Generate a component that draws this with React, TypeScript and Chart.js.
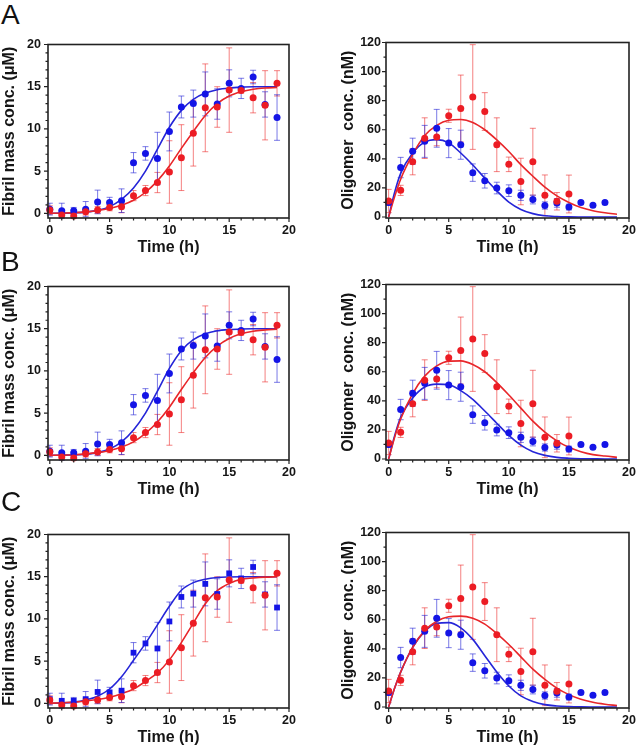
import React, { useEffect, useRef } from "react";
import { Chart, registerables } from "chart.js";
Chart.register(...registerables);

// ---------- data ----------
const hours = [0, 1, 2, 3, 4, 5, 6, 7, 8, 9, 10, 11, 12, 13, 14, 15, 16, 17, 18, 19];
const fibrilBlue = [0.5, 0.3, 0.3, 0.5, 1.35, 1.3, 1.5, 6.0, 7.1, 6.5, 9.7, 12.6, 13.0, 14.15, 12.95, 15.4, 14.8, 16.15, 12.9, 11.35];
const fibrilBlueErr = [0.7, 0.9, 0.4, 0.9, 1.4, 0.6, 1.4, 1.2, 0.8, 3.1, 2.3, 1.3, 1.6, 2.6, 1.8, 1.6, 1.2, 0.8, 1.5, 2.7];
const fibrilRed = [0.4, -0.2, -0.3, 0.2, 0.4, 0.7, 0.77, 2.1, 2.7, 3.65, 4.9, 6.6, 9.5, 12.5, 12.6, 14.6, 14.55, 13.7, 12.8, 15.4];
const fibrilRedErr = [0.5, 0.3, 0.3, 0.4, 0.4, 0.4, 0.7, 0.6, 0.6, 1.2, 3.7, 3.9, 3.9, 5.2, 2.4, 5.0, 0.3, 1.8, 4.1, 1.5];

const oligoBlueHours = [0, 1, 2, 3, 4, 5, 6, 7, 8, 9, 10, 11, 12, 13, 14, 15, 16, 17, 18];
const oligoBlue = [10, 34, 45.2, 52, 61, 50.8, 49.7, 30.5, 24.9, 19.9, 18.1, 14.9, 12.0, 7.9, 9.7, 6.8, 9.9, 8.1, 9.9];
const oligoBlueErr = [2, 7, 9, 11, 13, 10, 10, 6, 5, 4, 4, 3.5, 3, 2.5, 3, 2, 1, 1, 1];
const oligoRedHours = [0, 1, 2, 3, 4, 5, 6, 7, 8, 9, 10, 11, 12, 13, 14, 15];
const oligoRed = [11, 18.3, 38, 54.2, 55, 69.6, 74.6, 82.5, 72.5, 49.7, 36.2, 24.4, 38, 14.9, 10.8, 15.8];
const oligoRedErr = [8, 3.5, 9, 14, 6, 4.5, 23, 36, 13, 18.5, 5, 16, 23, 14, 6, 13];

// fitted curves
const fibrilFitHours = [0, 1, 2, 3, 4, 5, 6, 7, 8, 9, 10, 11, 12, 13, 14, 15, 16, 17, 18, 19];
const fibrilFitBlueA = [0, 0.02, 0.06, 0.15, 0.35, 0.8, 1.65, 3.0, 5.0, 7.6, 10.2, 12.2, 13.5, 14.25, 14.65, 14.85, 14.95, 15, 15, 15];
const fibrilFitRedA = [0, 0.04, 0.09, 0.18, 0.33, 0.58, 0.96, 1.55, 2.5, 3.85, 5.6, 7.7, 9.7, 11.6, 13.0, 13.9, 14.4, 14.7, 14.85, 14.9];
const fibrilFitBlueB = [0, 0.02, 0.05, 0.13, 0.32, 0.75, 1.6, 3.0, 5.0, 7.6, 10.3, 12.4, 13.7, 14.4, 14.75, 14.9, 14.97, 15, 15, 15];
const fibrilFitRedB = [0, 0.03, 0.08, 0.17, 0.32, 0.58, 0.98, 1.6, 2.6, 3.95, 5.7, 7.8, 9.8, 11.6, 12.95, 13.85, 14.4, 14.7, 14.85, 14.95];
const fibrilFitBlueC = [0, 0.05, 0.15, 0.4, 0.85, 1.7, 3.15, 5.1, 7.1, 9.3, 11.5, 13.4, 14.3, 14.7, 14.9, 14.97, 15, 15, 15, 15];
const fibrilFitRedC = [0, 0.08, 0.15, 0.28, 0.45, 0.73, 1.15, 1.7, 2.6, 3.6, 5.15, 7.2, 9.5, 11.8, 13.35, 14.2, 14.7, 14.85, 14.95, 15];

const oligoFitHours = [0, 0.5, 1, 2, 3, 4, 5, 6, 7, 8, 9, 10, 11, 12, 13, 14, 15, 16, 17, 18, 19];
const oligoFitBlueA = [0, 17, 30, 44, 51.5, 53.2, 51, 44, 35.8, 26.7, 18, 10.2, 5.2, 2.3, 0.8, 0.3, 0.1, 0, 0, 0, 0];
const oligoFitRedA = [0, 14, 26, 43, 56, 63, 66.5, 67, 65, 60, 53, 45, 36, 28, 20.5, 14.5, 10, 6.5, 4.3, 2.9, 1.9];
const oligoFitBlueB = [0, 16, 28.6, 42, 49.5, 51.5, 51, 47, 41, 33, 24.6, 16.2, 9.5, 5, 2.5, 1.1, 0.5, 0.2, 0.1, 0, 0];
const oligoFitRedB = [0, 15, 27.5, 45, 57, 64, 67.3, 67.5, 65, 60, 52.5, 44, 35, 26, 18.5, 12.5, 8, 5, 3, 2, 1.2];
const oligoFitBlueC = [0, 13, 24, 41, 52, 57.5, 58, 54.4, 46.5, 35.3, 24, 14.4, 7.6, 3.8, 1.6, 0.7, 0.3, 0.1, 0, 0, 0];
const oligoFitRedC = [0, 13, 24, 41, 52.5, 59, 62, 62.5, 61, 57, 50.5, 43, 34.5, 26, 19, 13, 8.5, 5.3, 3.2, 1.9, 1.0];

const timeTicks = [0, 5, 10, 15, 20];
const fibrilTicks = [0, 5, 10, 15, 20];
const oligoTicks = [0, 20, 40, 60, 80, 100, 120];

// ---------- styles ----------
const FONT = "'Liberation Sans', Arial, Helvetica, sans-serif";
const TXT = "#151515";
const BLUE = "#1414e6";
const RED = "#ec1c24";
const BLUE_LINE = "#2525d8";
const RED_LINE = "#e8262a";
const BLUE_ERR = "rgba(40,40,215,0.62)";
const RED_ERR = "rgba(236,45,45,0.6)";

const pts = (xs: number[], ys: number[]) => ys.map((y, i) => ({ x: xs[i], y }));

const errorBarPlugin = {
  id: "errbars",
  beforeDatasetsDraw(chart: any) {
    const { ctx } = chart;
    const ys = chart.scales.y;
    chart.data.datasets.forEach((ds: any, i: number) => {
      if (!ds.errors) return;
      const meta = chart.getDatasetMeta(i);
      ctx.save();
      ctx.strokeStyle = ds.errColor;
      ctx.lineWidth = 1;
      meta.data.forEach((el: any, j: number) => {
        const v = ds.data[j].y;
        const e = ds.errors[j];
        const px = el.x;
        const yt = ys.getPixelForValue(v + e);
        const yb = ys.getPixelForValue(v - e);
        ctx.beginPath();
        ctx.moveTo(px, yt);
        ctx.lineTo(px, yb);
        ctx.moveTo(px - 3, yt);
        ctx.lineTo(px + 3, yt);
        ctx.moveTo(px - 3, yb);
        ctx.lineTo(px + 3, yb);
        ctx.stroke();
      });
      ctx.restore();
    });
  },
};

const framePlugin = {
  id: "frameTicks",
  afterDraw(chart: any, _args: any, opts: any) {
    const { ctx, chartArea } = chart;
    const { left, right, top, bottom } = chartArea;
    const xs = chart.scales.x;
    const ys = chart.scales.y;
    ctx.save();
    ctx.strokeStyle = "#222";
    ctx.lineWidth = 1.6;
    ctx.strokeRect(left, top, right - left, bottom - top);
    ctx.lineWidth = 1.2;
    ctx.beginPath();
    for (let v = 0; v <= 20; v += 1) {
      const p = xs.getPixelForValue(v);
      const len = v % 5 === 0 ? 4 : 2.5;
      ctx.moveTo(p, bottom);
      ctx.lineTo(p, bottom + len);
    }
    const yMax = opts.yMax;
    const yMinor = opts.yMinor;
    const yMajor = opts.yMajor;
    for (let v = 0; v <= yMax + 1e-9; v += yMinor) {
      const p = ys.getPixelForValue(v);
      const isMajor = Math.abs(v / yMajor - Math.round(v / yMajor)) < 1e-6;
      const len = isMajor ? 4 : 2.5;
      ctx.moveTo(left, p);
      ctx.lineTo(left - len, p);
    }
    ctx.stroke();
    ctx.restore();
  },
};

type Opts = {
  kind: "fibril" | "oligo";
  blueFit: number[];
  redFit: number[];
  blueSquares?: boolean;
  yWidth: number;
};

function makeConfig(o: Opts): any {
  const fib = o.kind === "fibril";
  const blueData = fib ? pts(hours, fibrilBlue) : pts(oligoBlueHours, oligoBlue);
  const redData = fib ? pts(hours, fibrilRed) : pts(oligoRedHours, oligoRed);
  const blueErr = fib ? fibrilBlueErr : oligoBlueErr;
  const redErr = fib ? fibrilRedErr : oligoRedErr;
  const fitT = fib ? fibrilFitHours : oligoFitHours;
  const yTicks = fib ? fibrilTicks : oligoTicks;
  const tickFont = { family: FONT, size: 12.5, weight: "bold" as const };
  const titleFont = { family: FONT, size: 16, weight: "bold" as const };
  return {
    type: "line",
    data: {
      datasets: [
        {
          data: redData,
          errors: redErr,
          errColor: RED_ERR,
          showLine: false,
          pointStyle: "circle",
          pointRadius: 3.5,
          pointBackgroundColor: RED,
          pointBorderWidth: 0,
          order: 0,
          clip: false,
        },
        {
          data: blueData,
          errors: blueErr,
          errColor: BLUE_ERR,
          showLine: false,
          pointStyle: o.blueSquares ? "rect" : "circle",
          pointRadius: o.blueSquares ? 4.1 : 3.5,
          pointBackgroundColor: BLUE,
          pointBorderWidth: 0,
          order: 1,
          clip: false,
        },
        {
          data: pts(fitT, o.redFit),
          borderColor: RED_LINE,
          borderWidth: 1.6,
          pointRadius: 0,
          cubicInterpolationMode: "monotone",
          fill: false,
          order: 2,
        },
        {
          data: pts(fitT, o.blueFit),
          borderColor: BLUE_LINE,
          borderWidth: 1.6,
          pointRadius: 0,
          cubicInterpolationMode: "monotone",
          fill: false,
          order: 3,
        },
      ],
    },
    options: {
      responsive: false,
      maintainAspectRatio: false,
      animation: false,
      events: [],
      layout: { padding: { left: 0, right: 12, top: 10, bottom: 0 } },
      plugins: {
        legend: { display: false },
        tooltip: { enabled: false },
        frameTicks: fib ? { yMax: 20, yMinor: 1, yMajor: 5 } : { yMax: 120, yMinor: 10, yMajor: 20 },
      },
      scales: {
        x: {
          type: "linear",
          min: fib ? -0.15 : -0.22,
          max: 20,
          afterBuildTicks: (s: any) => {
            s.ticks = timeTicks.map((v) => ({ value: v }));
          },
          afterFit: (s: any) => {
            s.height = 40;
          },
          grid: { display: false, drawTicks: false },
          border: { display: false },
          ticks: { font: tickFont, color: TXT, padding: 5, maxRotation: 0, autoSkip: false },
          title: {
            display: true,
            text: "Time (h)",
            font: titleFont,
            color: TXT,
            padding: { top: 0, bottom: 1 },
          },
        },
        y: {
          type: "linear",
          min: fib ? -0.55 : -0.7,
          max: fib ? 20 : 120,
          afterBuildTicks: (s: any) => {
            s.ticks = yTicks.map((v) => ({ value: v }));
          },
          afterFit: (s: any) => {
            s.width = o.yWidth;
          },
          grid: { display: false, drawTicks: false },
          border: { display: false },
          ticks: { font: tickFont, color: TXT, padding: fib ? 7 : 5, autoSkip: false },
          title: {
            display: true,
            text: fib ? "Fibril mass conc. (\u03bcM)" : "Oligomer  conc. (nM)",
            font: titleFont,
            color: TXT,
            padding: { top: 0, bottom: 0 },
          },
        },
      },
    },
    plugins: [errorBarPlugin, framePlugin],
  };
}

function Panel(props: { left: number; top: number; width: number; height: number; opts: Opts }) {
  const ref = useRef<HTMLCanvasElement>(null);
  useEffect(() => {
    const chart = new Chart(ref.current as HTMLCanvasElement, makeConfig(props.opts));
    return () => chart.destroy();
  }, []);
  return (
    <canvas
      ref={ref}
      width={props.width}
      height={props.height}
      style={{ position: "absolute", left: props.left, top: props.top, width: props.width, height: props.height }}
    />
  );
}

const letterStyle = (top: number): React.CSSProperties => ({
  position: "absolute",
  left: 1,
  top,
  fontFamily: FONT,
  fontSize: 28,
  lineHeight: "28px",
  color: "#111",
});

export default function App() {
  const rows = [
    { top: 30, letter: "A", lt: 0.5, bf: fibrilFitBlueA, rf: fibrilFitRedA, bo: oligoFitBlueA, ro: oligoFitRedA, sq: false },
    { top: 272, letter: "B", lt: 248, bf: fibrilFitBlueB, rf: fibrilFitRedB, bo: oligoFitBlueB, ro: oligoFitRedB, sq: false },
    { top: 520, letter: "C", lt: 488, bf: fibrilFitBlueC, rf: fibrilFitRedC, bo: oligoFitBlueC, ro: oligoFitRedC, sq: true },
  ];
  return (
    <div style={{ position: "absolute", left: 0, top: 0, width: 638, height: 747, overflow: "hidden", background: "#fff" }}>
      {rows.map((r) => (
        <React.Fragment key={r.letter}>
          <Panel
            left={0}
            top={r.top}
            width={301}
            height={228}
            opts={{ kind: "fibril", blueFit: r.bf, redFit: r.rf, blueSquares: r.sq, yWidth: 48 }}
          />
          <Panel
            left={339}
            top={r.top}
            width={302}
            height={228}
            opts={{ kind: "oligo", blueFit: r.bo, redFit: r.ro, yWidth: 47 }}
          />
          <div style={letterStyle(r.lt)}>{r.letter}</div>
        </React.Fragment>
      ))}
    </div>
  );
}
